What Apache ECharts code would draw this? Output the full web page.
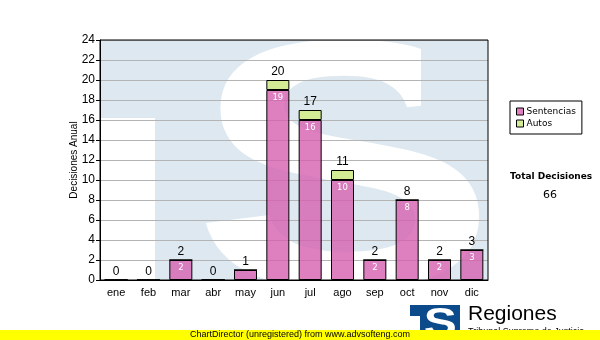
<!DOCTYPE html>
<html><head><meta charset="utf-8">
<script src="https://cdn.jsdelivr.net/npm/echarts@6/dist/echarts.min.js"></script>
<style>html,body{margin:0;padding:0;background:#fff}#c{width:600px;height:340px}</style>
</head><body><div id="c"></div>
<script>
var months = ['ene','feb','mar','abr','may','jun','jul','ago','sep','oct','nov','dic'];
var sentencias = [0,0,2,0,1,19,16,10,2,8,2,3];
var autos = [0,0,0,0,0,1,1,1,0,0,0,0];
var seriesNames = ['Sentencias','Autos'];
var totals = months.map(function(m,i){return sentencias[i]+autos[i];});
var grand = totals.reduce(function(a,b){return a+b;},0);

// Fit a glyph's ink box into a target rectangle (decorative logo letters)
function fitGlyph(ch, family, box, z, fill) {
  var cv = document.createElement('canvas').getContext('2d');
  var F = 200;
  var font = 'bold ' + F + 'px ' + family;
  cv.font = font; cv.textBaseline = 'middle'; cv.textAlign = 'left';
  var m = cv.measureText(ch);
  var inkH = m.actualBoundingBoxAscent + m.actualBoundingBoxDescent;
  var inkW = m.actualBoundingBoxLeft + m.actualBoundingBoxRight;
  var sy = (box[3] - box[1]) / inkH;
  var sx = (box[2] - box[0]) / inkW;
  return {type:'text', z:z, x: box[0] + sx * m.actualBoundingBoxLeft,
          y: box[1] + sy * m.actualBoundingBoxAscent, scaleX: sx, scaleY: sy,
          style:{text:ch, fill:fill, font:font, textAlign:'left', textVerticalAlign:'middle'}};
}

var chart = echarts.init(document.getElementById('c'), null, {renderer:'canvas'});
chart.setOption({
  animation:false,
  backgroundColor:'#fff',
  grid:{left:100,right:112,top:40,bottom:60,show:true,backgroundColor:'transparent',borderColor:'#000',borderWidth:1,z:1},
  legend:{
    orient:'vertical',left:510,top:101,
    data:seriesNames,
    icon:'rect',itemWidth:7,itemHeight:7,itemGap:3,
    padding:[6,6,6,6],
    borderColor:'#000',borderWidth:1,
    itemStyle:{borderColor:'#000',borderWidth:1},
    textStyle:{fontFamily:'DejaVu Sans',fontSize:9,color:'#000',padding:[0,0,0,-2]}
  },
  xAxis:{
    type:'category',data:months,
    axisLine:{lineStyle:{color:'#000',width:1}},
    axisTick:{alignWithLabel:true,length:4,lineStyle:{color:'#000'}},
    axisLabel:{fontFamily:'Liberation Sans',fontSize:11,color:'#000',margin:7}
  },
  yAxis:{
    type:'value',min:0,max:24,interval:2,
    name:'Decisiones Anual',nameLocation:'middle',nameGap:21,nameRotate:90,nameMoveOverlap:false,
    nameTextStyle:{fontFamily:'Liberation Sans',fontSize:10,color:'#000'},
    axisLine:{show:true,lineStyle:{color:'#000'}},
    axisTick:{show:true,length:4,lineStyle:{color:'#000'}},
    axisLabel:{fontFamily:'Liberation Sans',fontSize:12,color:'#000',margin:5},
    splitLine:{lineStyle:{color:'#b4b4b4',width:1}}
  },
  series:[
    {name:seriesNames[0],type:'bar',stack:'t',data:sentencias,barWidth:23,
     itemStyle:{color:'rgba(214,96,176,0.8)',borderColor:'#000',borderWidth:1},
     label:{show:true,position:'insideTop',distance:3,color:'#fff',fontFamily:'DejaVu Sans',fontSize:8.5,
       formatter:function(p){return p.value>=2?String(p.value):'';}}},
    {name:seriesNames[1],type:'bar',stack:'t',data:autos,barWidth:23,
     itemStyle:{color:'#d3eb95',borderColor:'#000',borderWidth:1},
     label:{show:true,position:'top',distance:2,color:'#000',fontFamily:'Liberation Sans',fontSize:12,
       formatter:function(p){return String(totals[p.dataIndex]);}}}
  ],
  graphic:[
    {type:'rect',z:-10,shape:{x:100,y:40,width:388,height:240},style:{fill:'#dde8f1'}},
    {type:'rect',z:-9,shape:{x:100,y:118,width:55,height:162},style:{fill:'#fff'}},
    fitGlyph('S','"Liberation Sans"',[204,39,480,290],-9,'#fff'),
    {type:'rect',z:-8,shape:{x:421,y:40,width:67,height:88},style:{fill:'#dde8f1'}},
    {type:'text',left:510,top:172,style:{text:'Total Decisiones',fill:'#000',font:'bold 9px "DejaVu Sans"'}},
    {type:'text',left:543,top:190,style:{text:String(grand),fill:'#000',font:'11px "DejaVu Sans"'}},
    {type:'rect',z:5,shape:{x:410,y:305,width:50,height:30},style:{fill:'#0b4a8b'}},
    {type:'rect',z:6,shape:{x:410,y:316,width:10,height:20},style:{fill:'#fff'}},
    fitGlyph('S','"Liberation Sans"',[425,307,455,336],6,'#fff'),
    {type:'text',z:6,x:468,y:304,style:{text:'Regiones',fill:'#000',font:'21px "Liberation Sans"',textAlign:'left',textVerticalAlign:'top'}},
    {type:'text',z:6,x:468,y:327,style:{text:'Tribunal Supremo de Justicia',fill:'#000',font:'9px "Liberation Sans"',textAlign:'left',textVerticalAlign:'top'}},
    {type:'rect',z:10,shape:{x:0,y:330,width:600,height:10},style:{fill:'#ffff00'}},
    {type:'text',z:11,x:300,y:330,style:{text:'ChartDirector (unregistered) from www.advsofteng.com',fill:'#000',font:'9px "Liberation Sans"',textAlign:'center',textVerticalAlign:'top'}}
  ]
});
</script></body></html>
